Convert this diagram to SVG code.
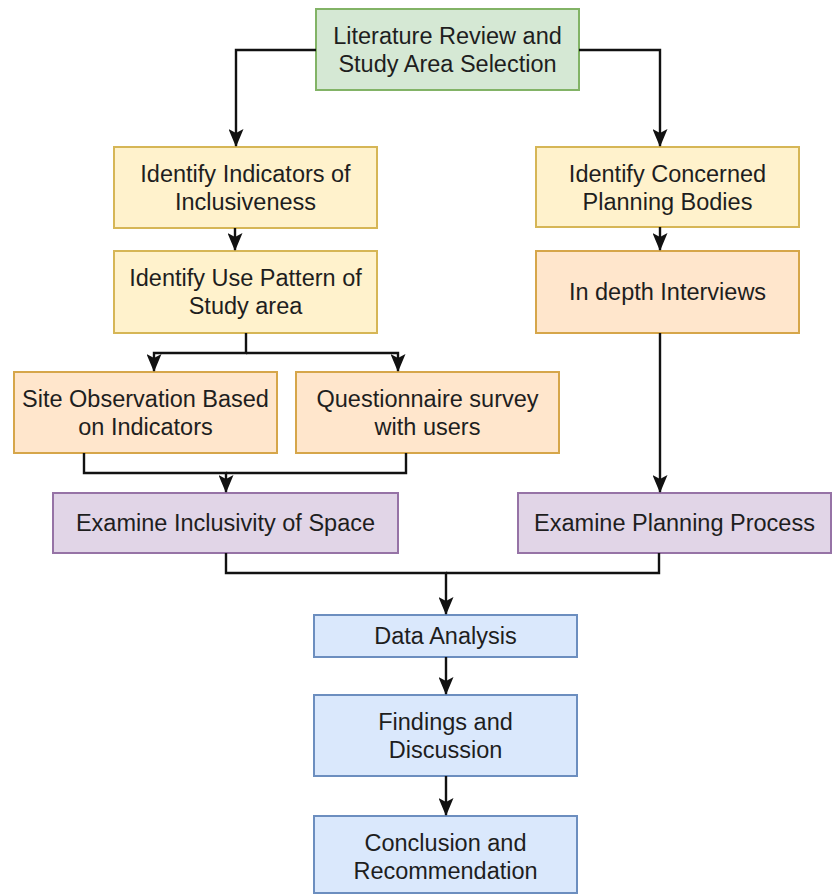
<svg xmlns="http://www.w3.org/2000/svg" width="832" height="894" viewBox="0 0 832 894">
<defs>
<marker id="arr" viewBox="0 0 18 15" refX="17" refY="7.5" markerWidth="18" markerHeight="15" markerUnits="userSpaceOnUse" orient="auto">
<path d="M0,0 L18,7.5 L0,15 L4,7.5 Z" fill="#111"/>
</marker>
</defs>
<style>
rect{stroke-width:2}
.g{fill:#d5e8d4;stroke:#82b366}
.y{fill:#fff2cc;stroke:#d6b656}
.o{fill:#ffe6cc;stroke:#d6a64a}
.p{fill:#e1d5e7;stroke:#9673a6}
.b{fill:#dae8fc;stroke:#6c8ebf}
text{font-family:"Liberation Sans",Arial,sans-serif;font-size:23.5px;fill:#1e1e1e;text-anchor:middle}
.c path{fill:none;stroke:#111;stroke-width:2.4}
</style>
<rect width="832" height="894" fill="#fff"/>
<g id="n-lit"><rect class="g" x="316" y="9" width="263" height="81"/><text x="447.5" y="44">Literature Review and</text><text x="447.5" y="72">Study Area Selection</text></g>
<g id="n-ind"><rect class="y" x="114" y="147" width="263" height="81"/><text x="245.5" y="182">Identify Indicators of</text><text x="245.5" y="210">Inclusiveness</text></g>
<g id="n-use"><rect class="y" x="114" y="251" width="263" height="82"/><text x="245.5" y="286">Identify Use Pattern of</text><text x="245.5" y="314">Study area</text></g>
<g id="n-site"><rect class="o" x="14" y="372" width="263" height="81"/><text x="145.5" y="407">Site Observation Based</text><text x="145.5" y="435">on Indicators</text></g>
<g id="n-quest"><rect class="o" x="296" y="372" width="263" height="81"/><text x="427.5" y="407">Questionnaire survey</text><text x="427.5" y="435">with users</text></g>
<g id="n-exinc"><rect class="p" x="53" y="493" width="345" height="60"/><text x="225.5" y="531">Examine Inclusivity of Space</text></g>
<g id="n-conc"><rect class="y" x="536" y="147" width="263" height="80"/><text x="667.5" y="182">Identify Concerned</text><text x="667.5" y="210">Planning Bodies</text></g>
<g id="n-int"><rect class="o" x="536" y="251" width="263" height="82"/><text x="667.5" y="300">In depth Interviews</text></g>
<g id="n-plan"><rect class="p" x="518" y="493" width="313" height="60"/><text x="674.5" y="531">Examine Planning Process</text></g>
<g id="n-data"><rect class="b" x="314" y="615" width="263" height="42"/><text x="445.5" y="644">Data Analysis</text></g>
<g id="n-find"><rect class="b" x="314" y="695" width="263" height="81"/><text x="445.5" y="730">Findings and</text><text x="445.5" y="758">Discussion</text></g>
<g id="n-concl"><rect class="b" x="314" y="816" width="263" height="77"/><text x="445.5" y="851">Conclusion and</text><text x="445.5" y="879">Recommendation</text></g>
<g class="c" id="connectors">
<path d="M316,50 H236 V146" marker-end="url(#arr)"/>
<path d="M579,50 H660 V146" marker-end="url(#arr)"/>
<path d="M235,228 V250" marker-end="url(#arr)"/>
<path d="M660,227 V250" marker-end="url(#arr)"/>
<path d="M246,333 V353 H154 V371" marker-end="url(#arr)"/>
<path d="M246,353 H398 V371" marker-end="url(#arr)"/>
<path d="M84,453 V473 H226 V492" marker-end="url(#arr)"/>
<path d="M406,453 V473 H226"/>
<path d="M660,333 V492" marker-end="url(#arr)"/>
<path d="M226,553 V573 H446 V614" marker-end="url(#arr)"/>
<path d="M659,553 V573 H446"/>
<path d="M446,657 V694" marker-end="url(#arr)"/>
<path d="M446,776 V815" marker-end="url(#arr)"/>
</g>
</svg>
